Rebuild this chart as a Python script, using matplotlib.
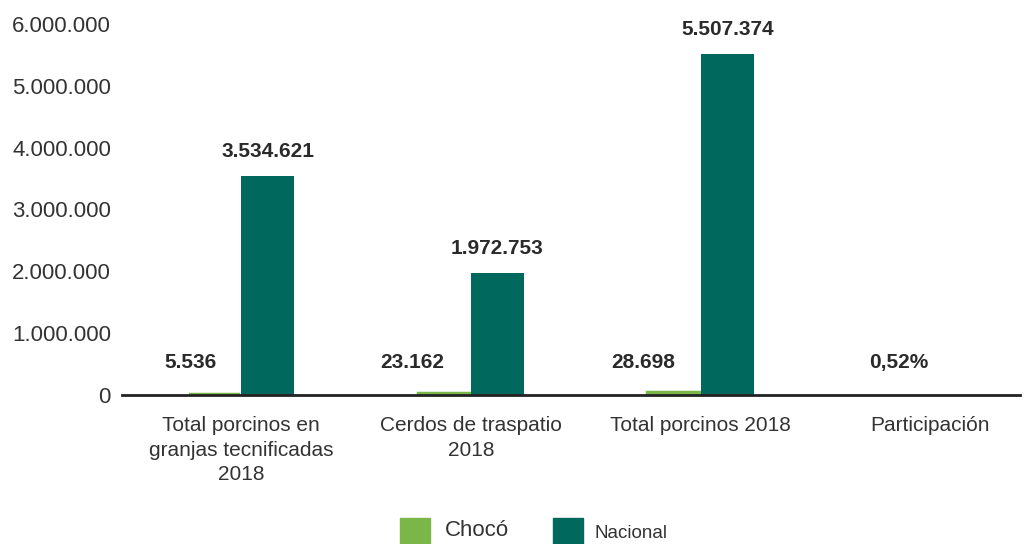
import matplotlib
matplotlib.use("Agg")
import matplotlib.pyplot as plt
from matplotlib.patches import Rectangle
import numpy as np

categories = ["Total porcinos en\ngranjas tecnificadas\n2018", "Cerdos de traspatio\n2018", "Total porcinos 2018", "Participación"]
choco = [5536, 23162, 28698, 0.0052]
nacional = [3534621, 1972753, 5507374, 0]
choco_labels = ["5.536", "23.162", "28.698", "0,52%"]
nacional_labels = ["3.534.621", "1.972.753", "5.507.374", ""]
yticks = [0, 1000000, 2000000, 3000000, 4000000, 5000000, 6000000]
ytick_labels = ["0", "1.000.000", "2.000.000", "3.000.000", "4.000.000", "5.000.000", "6.000.000"]
series_names = ["Chocó", "Nacional"]

green = "#7ab648"
dark = "#00685c"
txt = "#2a2a2a"

plt.rcParams['font.family'] = ['Liberation Sans', 'DejaVu Sans']

fig = plt.figure(figsize=(10.35, 5.44), dpi=100)
ax = fig.add_axes([0.1179, 0.2739, 0.8676, 0.682])
x = np.arange(len(categories))
w = 0.232
ax.bar(x - w / 2, choco, w - 0.01, color=green, edgecolor=green,
       linewidth=[3.2, 3.2, 3.2, 0], zorder=2)
ax.bar(x + w / 2, nacional, w, color=dark, zorder=2)

label_right = [-0.104, -0.117, -0.113, -0.009]
for i in range(len(categories)):
    ax.text(x[i] + label_right[i], 530000, choco_labels[i], ha="right", va="center",
            fontsize=15, fontweight="bold", color=txt)
    if nacional_labels[i]:
        ax.text(x[i] + w / 2, nacional[i] + 400000, nacional_labels[i], ha="center", va="center",
                fontsize=15, fontweight="bold", color=txt)

ax.set_ylim(0, 6000000)
ax.set_xlim(-0.518, 3.39)
ax.set_yticks(yticks)
ax.set_yticklabels(ytick_labels, fontsize=16, color="#333333")
ax.set_xticks(x)
ax.set_xticklabels(categories, fontsize=15, color="#333333", linespacing=1.38)
ax.tick_params(axis="y", length=0, pad=8)
ax.tick_params(axis="x", length=0, pad=15)
for s in ["top", "right", "left"]:
    ax.spines[s].set_visible(False)
ax.spines["bottom"].set_linewidth(2)
ax.spines["bottom"].set_color("#222222")
ax.spines["bottom"].set_zorder(3)

# legend (manual)
W, H = 1035.0, 544.0
fig.patches.append(Rectangle((400 / W, 0), 30 / W, 26 / H, transform=fig.transFigure, color=green))
fig.text(445 / W, 1 - 531 / H, series_names[0], fontsize=16, color="#333333", va="center", ha="left")
fig.patches.append(Rectangle((553 / W, 0), 30 / W, 26 / H, transform=fig.transFigure, color=dark))
fig.text(595 / W, 1 - 533 / H, series_names[1], fontsize=13.5, color="#333333", va="center", ha="left")

fig.savefig("out.png", dpi=100)
